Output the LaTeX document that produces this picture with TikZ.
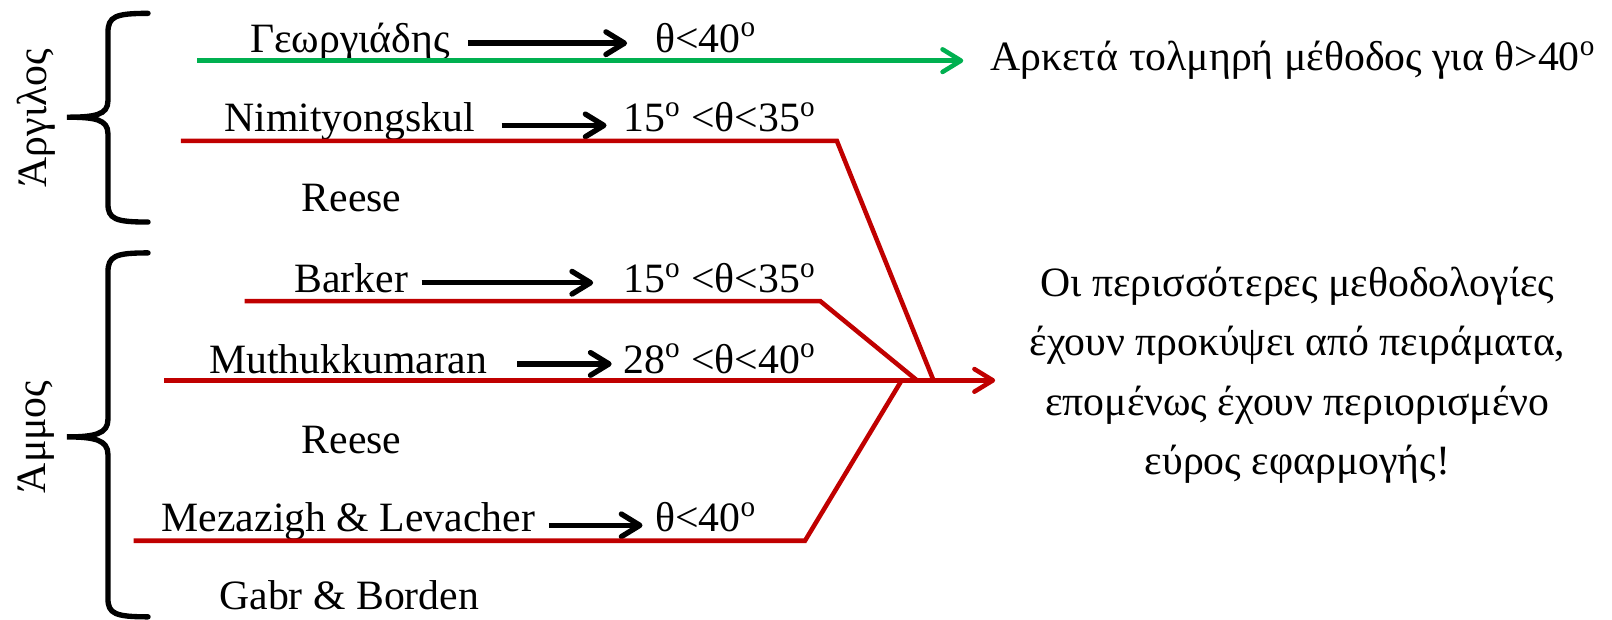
\documentclass[tikz,border=0pt]{standalone}
\usepackage{fontspec}
\setmainfont{Liberation Serif}
\usetikzlibrary{arrows.meta}
\definecolor{myred}{RGB}{192,0,0}
\definecolor{mygreen}{RGB}{0,176,80}
\begin{document}
\begin{tikzpicture}[x=0.5pt,y=-0.5pt,
  lbl/.style={font=\fontsize{20.3}{24}\selectfont, inner sep=0pt, anchor=base west},
  rlbl/.style={font=\fontsize{20.3}{24}\selectfont, inner sep=0pt, anchor=base},
  side/.style={font=\fontsize{20.3}{24}\selectfont, inner sep=0pt, rotate=90},
  tipb/.style={-{Straight Barb[length=9pt,width=11pt,round]}},
  blk/.style={line width=2.6pt, black, tipb},
  redl/.style={line width=2.2pt, myred, line join=miter},
  grn/.style={line width=2.2pt, mygreen, tipb},
  brace/.style={line width=2.6pt, black, line cap=round}
]
\useasboundingbox (0,0) rectangle (1568,603);

% braces
\draw[brace] (144,13) .. controls (112,13) and (105,16) .. (105,32) -- (105,98)
  .. controls (105,112) and (92,114) .. (65,114)
  .. controls (92,114) and (105,116) .. (105,130) -- (105,198)
  .. controls (105,213) and (112,216) .. (144,216);
\draw[brace] (144,246) .. controls (112,246) and (105,249) .. (105,265) -- (105,408)
  .. controls (105,422) and (92,425) .. (65,425)
  .. controls (92,425) and (105,428) .. (105,442) -- (105,582)
  .. controls (105,597) and (112,600) .. (144,600);
\node[side] (clay) at (35,115) {Άργιλος};
\node[side] (sand) at (35,425) {Άμμος};

% labels
\node[lbl] (geo) at (243,51) {Γεωργιάδης};
\node[lbl] (t1) at (637,51) {θ<40\textsuperscript{o}};
\node[lbl] (ark) at (963,69) {Αρκετά τολμηρή μέθοδος για θ>40\textsuperscript{o}};
\node[lbl] (nim) at (218,128) {Nimityongskul};
\node[lbl] (t2) at (606,128) {15\textsuperscript{o} <θ<35\textsuperscript{o}};
\node[lbl] (re1) at (293,206) {Reese};
\node[lbl] (bar) at (286,285) {Barker};
\node[lbl] (t3) at (606,285) {15\textsuperscript{o} <θ<35\textsuperscript{o}};
\node[lbl] (mut) at (203,363) {Muthukkumaran};
\node[lbl] (t4) at (606,363) {28\textsuperscript{o} <θ<40\textsuperscript{o}};
\node[lbl] (re2) at (293,441) {Reese};
\node[lbl] (mez) at (157,517) {Mezazigh \& Levacher};
\node[lbl] (t5) at (637,517) {θ<40\textsuperscript{o}};
\node[lbl] (gab) at (213,593) {Gabr \& Borden};

\node[rlbl] (c1) at (1262,288) {Οι περισσότερες μεθοδολογίες};
\node[rlbl] (c2) at (1262,346) {έχουν προκύψει από πειράματα,};
\node[rlbl] (c3) at (1262,404) {επομένως έχουν περιορισμένο};
\node[rlbl] (c4) at (1262,462) {εύρος εφαρμογής!};

% coordinates
\coordinate (g0) at (192,59);
\coordinate (g1) at (937,59);
\coordinate (a1s) at (455,42); \coordinate (a1e) at (610,42);
\coordinate (a2s) at (488,122); \coordinate (a2e) at (590,122);
\coordinate (a3s) at (410,275); \coordinate (a3e) at (577,275);
\coordinate (a4s) at (503,354); \coordinate (a4e) at (595,354);
\coordinate (a5s) at (534,511); \coordinate (a5e) at (625,511);
\coordinate (r1a) at (176,137); \coordinate (r1b) at (814,137); \coordinate (r1c) at (908,370);
\coordinate (r2a) at (238,293); \coordinate (r2b) at (798,293); \coordinate (r2c) at (892,370);
\coordinate (m0) at (160,370); \coordinate (m1) at (968,370);
\coordinate (r4a) at (130,526); \coordinate (r4b) at (783,526); \coordinate (r4c) at (877,370);

% connectors
\draw[grn] (g0) -- (g1);
\draw[blk] (a1s) -- (a1e);
\draw[blk] (a2s) -- (a2e);
\draw[blk] (a3s) -- (a3e);
\draw[blk] (a4s) -- (a4e);
\draw[blk] (a5s) -- (a5e);
\draw[redl] (r1a) -- (r1b) -- (r1c);
\draw[redl] (r2a) -- (r2b) -- (r2c);
\draw[redl] (r4a) -- (r4b) -- (r4c);
\draw[redl, tipb] (m0) -- (m1);
\end{tikzpicture}
\end{document}
